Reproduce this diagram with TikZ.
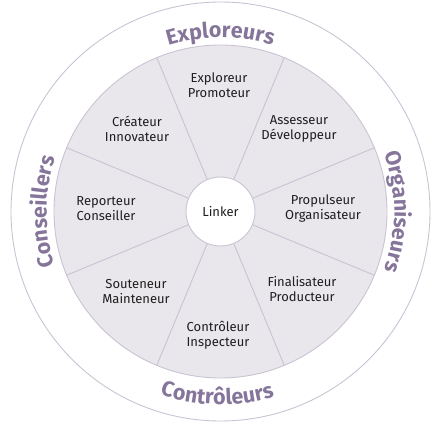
\documentclass[tikz,border=0pt]{standalone}
\usepackage{fontspec}
\setmainfont{Fira Sans}
\usetikzlibrary{decorations.text}
\definecolor{ringline}{HTML}{C9C3D3}
\definecolor{sectorfill}{HTML}{E9E7EC}
\definecolor{grouptext}{HTML}{85759A}
\definecolor{roletext}{HTML}{1E1E1E}
\tikzset{
  x=1pt,y=1pt,
  role/.style={align=center,text=roletext,font=\fontsize{13}{15}\selectfont,inner sep=0pt},
  divider/.style={draw=ringline,line width=0.9pt},
  grouplabel/.style={decorate,decoration={text along path,text align=center,
      text color=grouptext,
      text={|\fontsize{21.5}{21.5}\selectfont\bfseries|#1}}}
}
\begin{document}
\begin{tikzpicture}
\useasboundingbox (-220.5,-211.5) rectangle (220.5,211.5);
% outer ring
\node[circle,draw=ringline,line width=0.9pt,minimum size=419pt,inner sep=0pt] (outer) at (0,0) {};
% inner disc
\node[circle,draw=ringline,fill=sectorfill,line width=0.9pt,minimum size=333pt,inner sep=0pt] (inner) at (0,0) {};
% dividers
\foreach \a in {22.5,67.5,112.5,157.5,202.5,247.5,292.5,337.5}{
  \draw[divider] (\a:34.5) -- (\a:166.5);
}
% centre
\node[circle,draw=ringline,fill=white,line width=0.9pt,minimum size=69pt,inner sep=0pt,text=roletext,font=\fontsize{13}{15}\selectfont] (linker) at (0,0) {Linker};
% role labels
\node[role] (explo) at (-1.5,126.5) {Exploreur\\Promoteur};
\node[role] (asses) at (78.5,82.5) {Assesseur\\Développeur};
\node[role] (propu) at (102.5,2.5) {Propulseur\\Organisateur};
\node[role] (final) at (81.5,-77.5) {Finalisateur\\Producteur};
\node[role] (contr) at (-2.5,-123.5) {Contrôleur\\Inspecteur};
\node[role] (soute) at (-84.5,-80.5) {Souteneur\\Mainteneur};
\node[role] (repor) at (-114.5,2.5) {Reporteur\\Conseiller};
\node[role] (creat) at (-83.5,82.5) {Créateur\\Innovateur};
% group labels
\path[grouplabel=Exploreurs] (140:174) arc[start angle=140,end angle=40,radius=174];
\path[grouplabel=Organiseurs] (50:174) arc[start angle=50,end angle=-50,radius=174];
\path[grouplabel=Conseillers] (230:174) arc[start angle=230,end angle=130,radius=174];
\path[grouplabel=Contrôleurs] (219:193) arc[start angle=219,end angle=319,radius=193];
\end{tikzpicture}
\end{document}
